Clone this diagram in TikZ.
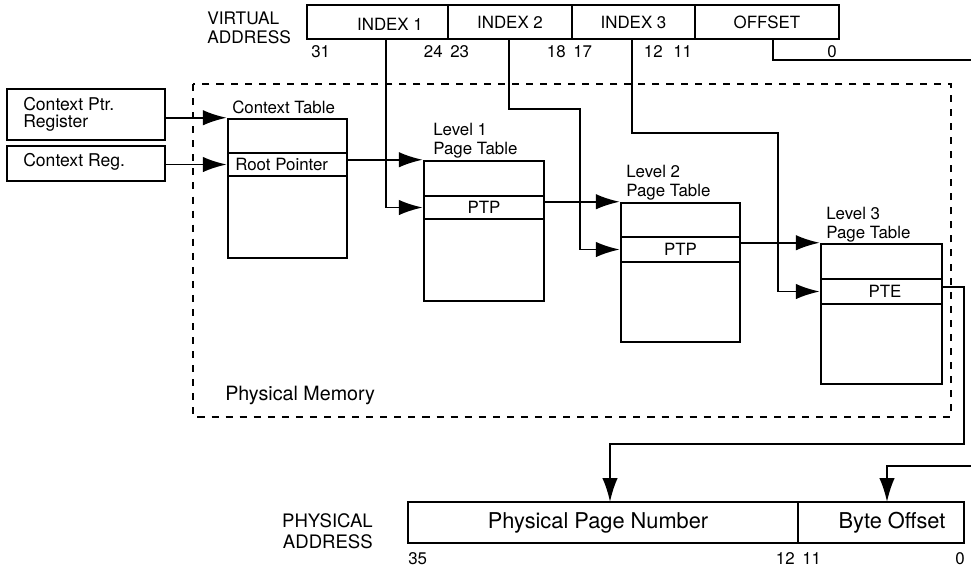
\documentclass[tikz,border=0pt]{standalone}
\usepackage{fontspec}
\setmainfont{TeX Gyre Heros}
\usetikzlibrary{arrows.meta,fit}

\begin{document}
\begin{tikzpicture}[x=0.025cm,y=-0.025cm,
	box/.style={draw,line width=1.8pt,inner sep=0pt},
	lbl/.style={inner sep=0pt,font=\fontsize{12}{14}\selectfont},
	wire/.style={line width=1.4pt},
	arr/.style={line width=1.4pt,-{Latex[length=17pt,width=11pt]}}]
	\useasboundingbox (0,0) rectangle (971,568);
	
	% physical memory
	\draw[line width=2pt,dash pattern=on 5pt off 5pt] (193,84) rectangle (951,417);
	\node[lbl,anchor=west,font=\fontsize{14}{16}\selectfont] (pmem) at (225,395) {Physical Memory};
	
	% virtual address
	\node[lbl,anchor=west,align=left,font=\fontsize{12.3}{13.2}\selectfont] (vaddr) at (207,28) {VIRTUAL\\ADDRESS};
	\node[box,fit={(307,5) (448,39)}] (idxa) {};
	\node[box,fit={(448,5) (572,39)}] (idxb) {};
	\node[box,fit={(572,5) (695,39)}] (idxc) {};
	\node[box,fit={(695,5) (839,39)}] (offs) {};
	\node[lbl] (idxatxt) at (390,24) {INDEX 1};
	\node[lbl] (idxbtxt) at (idxb.center) {INDEX 2};
	\node[lbl] (idxctxt) at (idxc.center) {INDEX 3};
	\node[lbl] (offstxt) at (offs.center) {OFFSET};
	
	\node[lbl,anchor=west] (b31) at (311,52) {31};
	\node[lbl,anchor=east] (b24) at (443,52) {24};
	\node[lbl,anchor=west] (b23) at (450,52) {23};
	\node[lbl,anchor=east] (b18) at (566,52) {18};
	\node[lbl,anchor=west] (b17) at (573,52) {17};
	\node[lbl,anchor=east] (b12) at (663,52) {12};
	\node[lbl,anchor=west] (b11) at (673,52) {11};
	\node[lbl] (b0) at (832,52) {0};
	
	% registers
	\node[box,fit={(7,89) (165,140)}] (cpr) {};
	\node[lbl,anchor=west,align=left,font=\fontsize{12.5}{12}\selectfont] (cprtxt) at (23,114.5) {Context Ptr.\\Register};
	\node[box,fit={(7,146) (165,181)}] (creg) {};
	\node[lbl,anchor=west,font=\fontsize{12.5}{14}\selectfont] (cregtxt) at (23,162) {Context Reg.};
	
	% context table
	\node[box,fit={(228,119) (347,258)}] (ctx) {};
	\node[box,fit={(228,153) (347,176)}] (root) {};
	\node[lbl,anchor=west] (roottxt) at (235,164.5) {Root Pointer};
	\node[lbl,anchor=west] (ctxtxt) at (232,107) {Context Table};
	
	% level 1
	\node[box,fit={(424,161) (544,301)}] (ta) {};
	\node[box,fit={(424,196) (544,219)}] (ptpa) {};
	\node[lbl] (ptpatxt) at (ptpa.center) {PTP};
	\node[lbl,anchor=west,align=left,font=\fontsize{12}{13.5}\selectfont] (tatxt) at (433,140.5) {Level 1\\Page Table};
	
	% level 2
	\node[box,fit={(621,203) (740,342)}] (tb) {};
	\node[box,fit={(621,237) (740,262)}] (ptpb) {};
	\node[lbl] (ptpbtxt) at (ptpb.center) {PTP};
	\node[lbl,anchor=west,align=left,font=\fontsize{12}{13.5}\selectfont] (tbtxt) at (626,182.5) {Level 2\\Page Table};
	
	% level 3
	\node[box,fit={(821,244) (942,384)}] (tc) {};
	\node[box,fit={(821,279) (942,304)}] (pte) {};
	\node[lbl] (ptetxt) at (885,291.5) {PTE};
	\node[lbl,anchor=west,align=left,font=\fontsize{12}{13.5}\selectfont] (tctxt) at (826,224.5) {Level 3\\Page Table};
	
	% physical address
	\node[lbl,anchor=east,align=right,font=\fontsize{13.2}{15}\selectfont] (paddr) at (373,531.5) {PHYSICAL\\ADDRESS};
	\node[box,fit={(408,502) (798,543)}] (ppn) {};
	\node[box,fit={(798,502) (964,543)}] (boff) {};
	\node[lbl,font=\fontsize{15.5}{17}\selectfont] (ppntxt) at (598,522.5) {Physical Page Number};
	\node[lbl,font=\fontsize{15.5}{17}\selectfont] (bofftxt) at (892,522.5) {Byte Offset};
	
	\node[lbl,anchor=west] (p35) at (408,559) {35};
	\node[lbl,anchor=east] (p12) at (795,559) {12};
	\node[lbl,anchor=west] (p11) at (802,559) {11};
	\node[lbl,anchor=east] (p0) at (965,559) {0};
	
	% connectors
	\coordinate (va) at (386,39);
	\coordinate (vb) at (509,39);
	\coordinate (vc) at (632,39);
	\coordinate (vd) at (773,39);
	\coordinate (offout) at (971,60);
	\coordinate (offin) at (971,466);
	
	\draw[arr] (cpr.east |- ctx.north west) -- (ctx.north west);
	\draw[arr] (root.west -| creg.east) -- (root.west);
	\draw[arr] (root.east |- ta.north west) -- (ta.north west);
	\draw[arr] (va) |- (ptpa.west);
	\draw[arr] (ptpa.east |- tb.north west) -- (tb.north west);
	\draw[arr] (vb) |- (580,109) |- (ptpb.west);
	\draw[arr] (ptpb.east |- tc.north west) -- (tc.north west);
	\draw[arr] (vc) |- (778,133) |- (pte.west);
	\draw[wire] (vd) |- (offout);
	\draw[arr] (pte.east |- 0,287) -| (964,444) -| (610,502);
	\draw[arr] (offin) -| (887,502);
\end{tikzpicture}
\end{document}
